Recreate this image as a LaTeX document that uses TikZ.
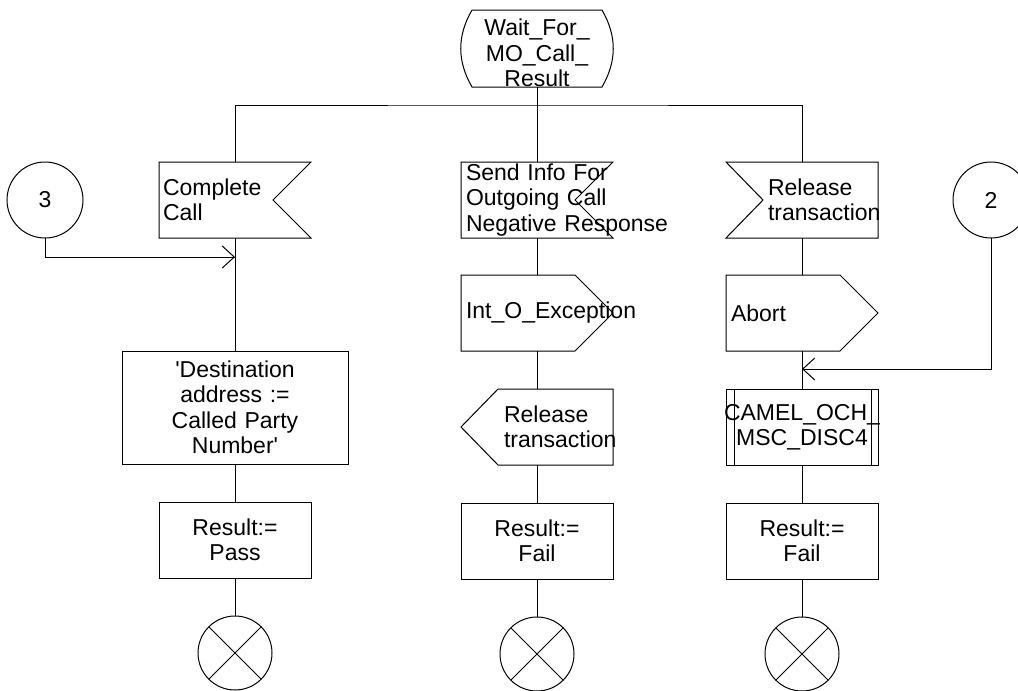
\documentclass[tikz,border=0pt]{standalone}
\usepackage{fontspec}
\setmainfont{Liberation Sans}[Ligatures=TeXOff]
\usetikzlibrary{positioning, arrows.meta, decorations.markings}
\tikzstyle{Arrow} = [
decoration={
markings,
mark=at position 0.9999 with {
\arrow{Straight Barb[length=12pt, width=22pt]}}},
preaction = {decorate}]
\tikzstyle{Symbol} = [minimum width=152pt, minimum height=76pt,
inner sep=0pt, outer sep=0pt]
\tikzstyle{State} = [minimum width=130pt, minimum height=68pt,
inner sep=0pt, outer sep=0pt, text width=130pt, align=center]
\tikzstyle{Task} = [Symbol, draw, text width=152pt, align=center]
\tikzstyle{Proc} = [Task,
path picture={
\draw ([xshift=8pt]path picture bounding box.north west) -- ([xshift=8pt]path picture bounding box.south west)
([xshift=-7pt]path picture bounding box.north east) -- ([xshift=-7pt]path picture bounding box.south east);}]
\tikzstyle{Connector} = [circle, draw, minimum size=76pt, inner sep=0pt, outer sep=0pt]
\tikzstyle{Stop} = [circle, draw, minimum size=74pt, inner sep=0pt, outer sep=0pt,
path picture={
\draw (path picture bounding box.north west) -- (path picture bounding box.south east)
(path picture bounding box.north east) -- (path picture bounding box.south west);}]

\begin{document}
\begin{tikzpicture}[x=1pt, y=1pt, line width=1pt,
every node/.style={font=\fontsize{23}{25.5}\selectfont}]
    \useasboundingbox (0,0) rectangle (1018,-691);
    \clip (0,0) rectangle (1018,-691);

    \node [State] (wait) at (537,-53) {Wait\_For\_\\MO\_Call\_\\Result};
    \node [Symbol, below=75pt of wait, text width=142pt, align=left] (send) {Send Info For\\Outgoing Call\\\mbox{Negative Response}};
    \node [Symbol, left=150pt of send, text width=144pt, align=left] (complete) {Complete\\Call};
    \node [Symbol, right=113pt of send, text width=68pt, align=left] (relin) {\mbox{Release}\\\mbox{transaction}};
    \node [Connector, left=76pt of complete] (con3) {3};
    \node [Connector, right=75pt of relin] (con2) {2};

    \node [Task, below=113pt of complete, minimum width=226pt, text width=226pt, minimum height=113pt] (dest) {'Destination\\address :=\\Called Party\\Number'};
    \node [Task, below=38pt of dest] (pass) {Result:=\\Pass};
    \node [Stop, below=38pt of pass] (stop1) {};

    \node [Symbol, below=37pt of send, text width=142pt, align=left] (exc) {\mbox{Int\_O\_Exception}};
    \node [Symbol, below=38pt of exc, text width=66pt, align=left] (relout) {\mbox{Release}\\\mbox{transaction}};
    \node [Task, below=38pt of relout] (fail1) {Result:=\\Fail};
    \node [Stop, below=38pt of fail1] (stop2) {};

    \node [Symbol, below=37pt of relin, text width=142pt, align=left] (abort) {Abort};
    \node [Proc, below=38pt of abort] (disc) {\makebox[\hsize]{CAMEL\_OCH\_}\\MSC\_DISC4};
    \node [Task, below=38pt of disc] (fail2) {Result:=\\Fail};
    \node [Stop, below=38pt of fail2] (stop3) {};

    \coordinate [below=18pt of wait] (fork);
    \coordinate [below=19pt of complete] (join3);
    \coordinate [below=18pt of abort] (join2);

    % outlines
    \draw ([yshift=9pt]wait.north west) -- ([yshift=9pt]wait.north east) to [bend left=30] (wait.south east)
        -- (wait.south west) to [bend left=30] ([yshift=9pt]wait.north west);
    \draw (complete.north west) -- (complete.north east) -- ([xshift=-38pt]complete.east)
        -- (complete.south east) -- (complete.south west) -- cycle;
    \draw (send.north west) -- (send.north east) -- ([xshift=-38pt]send.east)
        -- (send.south east) -- (send.south west) -- cycle;
    \draw (relin.north west) -- (relin.north east) -- (relin.south east)
        -- (relin.south west) -- ([xshift=37pt]relin.west) -- cycle;
    \draw (exc.north west) -- ([xshift=-38pt]exc.north east) -- (exc.east)
        -- ([xshift=-38pt]exc.south east) -- (exc.south west) -- cycle;
    \draw (abort.north west) -- ([xshift=-38pt]abort.north east) -- (abort.east)
        -- ([xshift=-38pt]abort.south east) -- (abort.south west) -- cycle;
    \draw ([xshift=37pt]relout.north west) -- (relout.north east) -- (relout.south east)
        -- ([xshift=37pt]relout.south west) -- (relout.west) -- cycle;

    % flow lines
    \draw (wait) -- (send);
    \draw (complete.north) |- (fork) -| (relin.north);
    \draw (complete) -- (dest) -- (pass) -- (stop1);
    \draw (send) -- (exc) -- (relout) -- (fail1) -- (stop2);
    \draw (relin) -- (abort) -- (disc) -- (fail2) -- (stop3);
    \draw[Arrow] (con3) |- (join3);
    \draw[Arrow] (con2) |- (join2);
\end{tikzpicture}
\end{document}
